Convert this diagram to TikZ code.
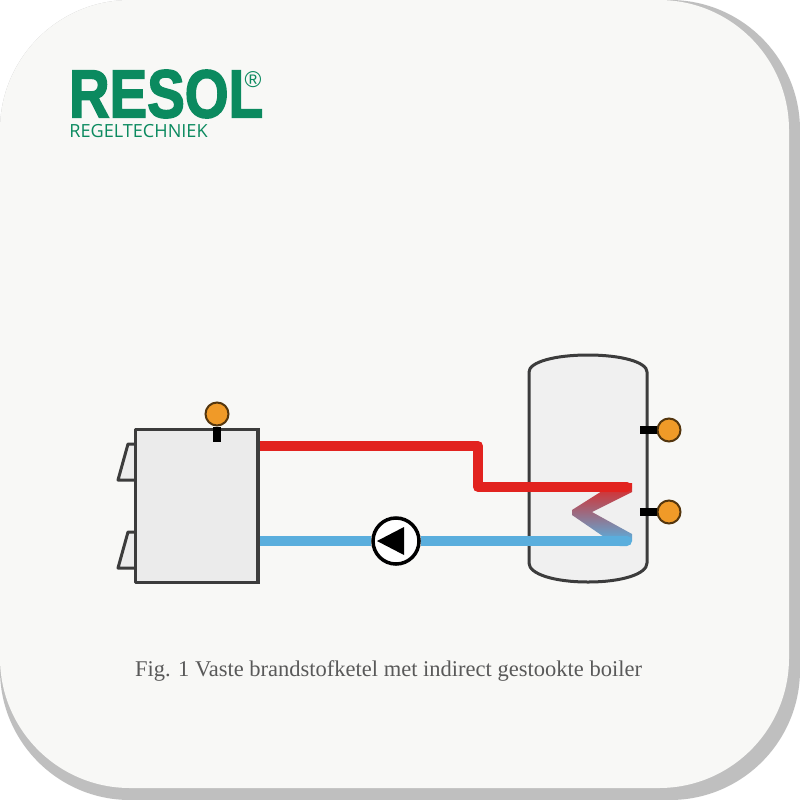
\documentclass[tikz,border=0pt]{standalone}
\usepackage{fontspec}
\setmainfont{Liberation Serif}
\newfontfamily\logofont[BoldFeatures={FakeBold=2.5}]{Liberation Sans}
\newfontfamily\subfont{Open Sans}
\usetikzlibrary{calc,arrows.meta}
\definecolor{cardgray}{HTML}{F8F8F6}
\definecolor{shadowgray}{HTML}{BFBFBF}
\definecolor{resolgreen}{HTML}{0B8A5F}
\definecolor{hotred}{HTML}{E2231F}
\definecolor{coldblue}{HTML}{5AAEDD}
\definecolor{coilgray}{HTML}{979A98}
\definecolor{wallgray}{HTML}{3C3C3C}
\definecolor{sensorfill}{HTML}{F09A28}
\tikzset{
  wall/.style={draw=wallgray,line width=0.03cm,line join=round},
  hotpipe/.style={draw=hotred,line width=0.1cm,line join=round},
  coldpipe/.style={draw=coldblue,line width=0.1cm},
  sensor/.style={circle,draw=black!65!sensorfill,line width=0.02cm,fill=sensorfill,minimum size=0.23cm,inner sep=0},
  stem/.style={draw=black,line width=0.085cm}
}
\begin{document}
\begin{tikzpicture}[x=0.01cm,y=-0.01cm]
  \useasboundingbox (0,0) rectangle (800,800);
  \fill[white] (0,0) rectangle (800,800);
  \fill[shadowgray,rounded corners=1.3cm] (0,0) rectangle (800,800);
  \fill[cardgray,rounded corners=1.3cm] (0,0) rectangle (789,788);

  \node[text=resolgreen,inner sep=0,xscale=.83] (logo) at (166,94) {\logofont\bfseries\fontsize{19.3}{19.3}\selectfont RESOL};
  \node[text=resolgreen,inner sep=0] (reg) at (253,80) {\logofont\fontsize{6.5}{6.5}\selectfont ®};
  \node[text=resolgreen,inner sep=0] (regel) at (138.5,131.5) {\subfont\fontsize{5.15}{5.15}\selectfont REGELTECHNIEK};

  % ketel
  \draw[wall,fill=gray!15] (136,444) -- (128,444) -- (118,480) -- (136,480);
  \draw[wall,fill=gray!15] (136,532) -- (128,532) -- (118,568) -- (136,568);
  \node[wall,fill=black!8,rectangle,minimum width=1.21cm,minimum height=1.52cm,inner sep=0] (ketel) at (196.5,506) {};
  \node[sensor] (ts1) at (217,414) {};
  \coordinate (ts1end) at (217,442);
  \draw[stem] (ts1) -- (ts1end);

  % boiler
  \draw[wall,fill=black!6] (529,372) .. controls (529,362) and (555,355) .. (588,355)
    .. controls (621,355) and (647,362) .. (647,372) -- (647,563)
    .. controls (647,574) and (622,582) .. (588,582)
    .. controls (554,582) and (529,574) .. (529,563) -- cycle;
  \node[sensor] (ts2) at (669,430) {};
  \node[sensor] (ts3) at (669,512) {};
  \coordinate (ts2end) at (640,430);
  \coordinate (ts3end) at (640,512);
  \draw[stem] (ts2) -- (ts2end);
  \draw[stem] (ts3) -- (ts3end);

  % spiraal
  \shade[top color=hotred,middle color=coilgray,bottom color=coldblue,shading angle=0]
    (632,483) -- (632,492) -- (592,512) -- (632,534) -- (632,541) -- (610,541)
    -- (572,515) -- (572,510) -- (610,486) -- cycle;

  % leidingen
  \coordinate (hotstart) at (ketel.east |- 0,446);
  \coordinate (hotend) at (632,487);
  \coordinate (coldstart) at (ketel.east |- 0,541);
  \coordinate (coldend) at (632,541);
  \draw[hotpipe,-{Round Cap[]}] (hotstart) -- (478,446) -- (478,487) -- (hotend);
  \node[circle,draw=black,line width=0.035cm,fill=white,minimum size=0.46cm,inner sep=0] (pomp) at (396,541) {};
  \draw[coldpipe] (coldstart) -- (pomp);
  \draw[coldpipe,-{Round Cap[]}] (pomp) -- (coldend);
  \fill[black] (377,541) -- (404,527) -- (404,555) -- cycle;
  \draw[wall] (ketel.north east) -- (ketel.south east);

  \node[text=black!65,inner sep=0] (fig) at (388.5,671) {\fontsize{6.4}{7}\selectfont Fig. 1 Vaste brandstofketel met indirect gestookte boiler};
\end{tikzpicture}
\end{document}
